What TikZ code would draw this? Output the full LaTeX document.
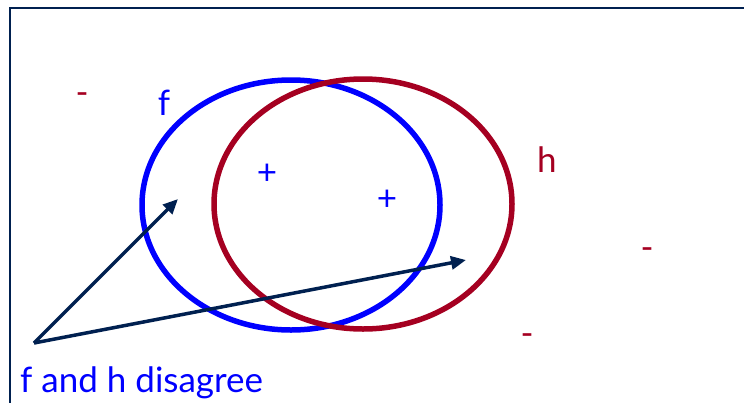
\documentclass[tikz,border=0pt]{standalone}
\usepackage{fontspec}
\setmainfont{Lato}
\usetikzlibrary{arrows.meta}
\definecolor{fblue}{RGB}{0,0,255}
\definecolor{hred}{RGB}{165,0,33}
\definecolor{navy}{RGB}{0,32,80}
\tikzset{
  lbl/.style={font=\fontsize{35}{35}\selectfont, inner sep=0pt},
  bluelbl/.style={lbl, text=fblue},
  redlbl/.style={lbl, text=hred},
  ptr/.style={draw=navy, line width=3.5pt, -{Triangle[length=15pt,width=13pt]}},
}
\begin{document}
\begin{tikzpicture}[x=1pt,y=-1pt]
\useasboundingbox (0,0) rectangle (744,402);
\draw[navy, line width=2pt] (10,8) rectangle (760,420);
\draw[fblue, line width=5.5pt] (291,205) ellipse [x radius=149pt, y radius=125pt];
\draw[hred, line width=5.5pt] (363,204) ellipse [x radius=149pt, y radius=125pt];
\node[redlbl] (m1) at (82,99) {-};
\node[bluelbl] (lf) at (164,103) {f};
\node[bluelbl] (p1) at (267,174) {+};
\node[bluelbl] (p2) at (387,200) {+};
\node[redlbl] (lh) at (547,160) {h};
\node[redlbl] (m2) at (647,254) {-};
\node[redlbl] (m3) at (527,340) {-};
\node[bluelbl, anchor=base west] (txt) at (20,392) {f and h disagree};
\coordinate (s) at (34,343);
\coordinate (t1) at (178,199);
\coordinate (t2) at (466,260);
\draw[ptr] (s) -- (t1);
\draw[ptr] (s) -- (t2);
\end{tikzpicture}
\end{document}
